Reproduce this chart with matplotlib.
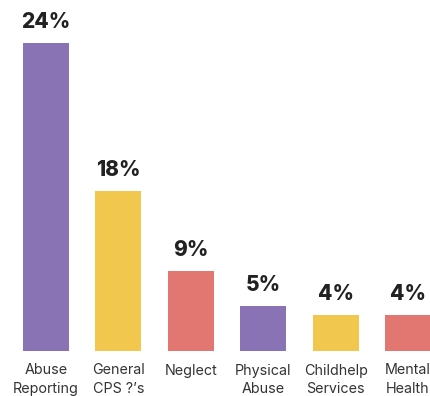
import matplotlib.pyplot as plt

categories = ['Abuse\nReporting', 'General\nCPS ?\u2019s', 'Neglect', 'Physical\nAbuse', 'Childhelp\nServices', 'Mental\nHealth']
pct_labels = ['24%', '18%', '9%', '5%', '4%', '4%']
# bar heights as drawn in the original (not proportional to the labels)
heights = [24, 12.5, 6.2, 3.5, 2.8, 2.8]
colors = ['#8A73B5', '#F2C74E', '#E27771', '#8A73B5', '#F2C74E', '#E27771']

fig = plt.figure(figsize=(4.3, 3.96), dpi=100)
ax = fig.add_axes([0, 45 / 396, 1, 351 / 396])

x = list(range(len(categories)))
bars = ax.bar(x, heights, 0.635, color=colors)
ax.set_xlim(-0.635, 5.304)
ax.set_ylim(0, 351 / 12.83)

for bar, lab in zip(bars, pct_labels):
    ax.annotate(lab, (bar.get_x() + bar.get_width() / 2, bar.get_height()),
                xytext=(0, 8), textcoords='offset points',
                ha='center', va='bottom', fontsize=15, fontweight='heavy',
                family='Inter', color='#222222')

ax.set_xticks(x)
ax.set_xticklabels(categories, fontsize=10.3, family='Inter', color='#333333',
                   linespacing=1.45)
ax.tick_params(axis='x', length=0, pad=9)
ax.set_yticks([])
for s in ax.spines.values():
    s.set_visible(False)

fig.savefig('out.png', dpi=100)
